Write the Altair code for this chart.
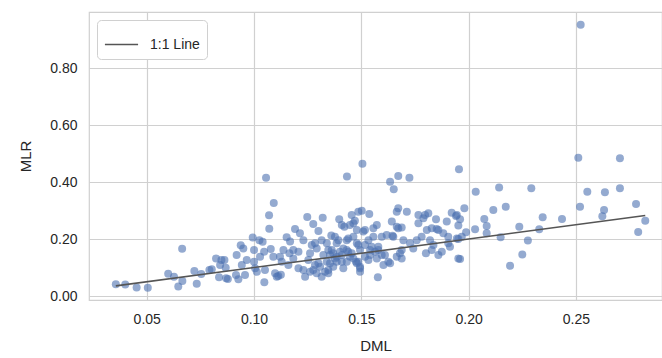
import altair as alt
import pandas as pd

dml = [
    0.0356, 0.040, 0.0453, 0.0505, 0.060, 0.0627, 0.0647, 0.0665, 0.0666, 0.0722,
    0.0733, 0.0754, 0.0792, 0.0803, 0.0823, 0.0837, 0.0842, 0.0848, 0.0862, 0.0868,
    0.087, 0.0878, 0.0919, 0.0938, 0.095, 0.0943, 0.0966, 0.0916, 0.0927, 0.0958,
    0.0994, 0.100, 0.1005, 0.1013, 0.1025,
    0.1056, 0.1433, 0.1505, 0.1634, 0.1651, 0.1672, 0.1724, 0.1955, 0.1092, 0.107,
    0.1071, 0.1040, 0.1047, 0.1078, 0.1028, 0.1000, 0.1090, 0.1051, 0.1048, 0.1098,
    0.1113, 0.1129, 0.1137, 0.1152, 0.1168, 0.1191, 0.1214, 0.1248, 0.1276, 0.130,
    0.132, 0.1165, 0.1183, 0.1207, 0.123, 0.1269, 0.1253, 0.1292, 0.1315, 0.1323,
    0.1284, 0.1308, 0.1331, 0.1261, 0.1207, 0.116, 0.1346, 0.1354, 0.1362, 0.1377,
    0.1397, 0.1409, 0.1393, 0.1385, 0.1416, 0.1432, 0.1439, 0.1455, 0.1463, 0.1479,
    0.1486, 0.1502, 0.1509, 0.1479, 0.1447, 0.1475, 0.1494, 0.1517, 0.1533, 0.1537,
    0.1556, 0.1572, 0.1564, 0.1579, 0.1577, 0.1603, 0.1618, 0.1642, 0.1665, 0.1672,
    0.1712, 0.1672, 0.1696, 0.1649, 0.1665, 0.1634, 0.1688, 0.1758, 0.1766, 0.1789,
    0.1797, 0.1805, 0.1812, 0.1781, 0.182, 0.1828, 0.1848, 0.1859, 0.1898, 0.1921,
    0.1945, 0.1905, 0.1882, 0.1913, 0.1801, 0.1859, 0.1875, 0.1952, 0.1727, 0.1742,
    0.123, 0.1238, 0.1292, 0.1315, 0.1369, 0.1385, 0.1409, 0.1432, 0.1455, 0.1494,
    0.1494, 0.1517, 0.1541, 0.1595, 0.1541, 0.1354, 0.1339, 0.1261, 0.1183, 0.1121,
    0.1106, 0.1125,
    0.1421, 0.147, 0.1447, 0.1517, 0.1360, 0.1432, 0.1463, 0.1556, 0.1595, 0.1284,
    0.1385, 0.1416, 0.1486, 0.1548, 0.1346, 0.1369, 0.140, 0.1439, 0.1463, 0.1579,
    0.161, 0.1626, 0.130, 0.1339, 0.1377, 0.1409, 0.1486, 0.1533, 0.1572, 0.1276,
    0.1346, 0.1479, 0.1494,
    0.1665, 0.1688, 0.1766, 0.1851, 0.1645, 0.1836, 0.1905, 0.1945, 0.1968, 0.168,
    0.1688, 0.1828,
    0.2511, 0.2705, 0.2033, 0.2142, 0.2292, 0.2553, 0.2635, 0.2705, 0.278, 0.2519,
    0.2631, 0.2623, 0.2823, 0.279, 0.2435, 0.2345, 0.2329, 0.2236, 0.2276, 0.225,
    0.2193, 0.2149, 0.2173, 0.2115, 0.2073, 0.2084, 0.2084, 0.203, 0.1988, 0.198,
    0.196, 0.1941, 0.1952, 0.1952, 0.196, 0.2522,
]

mlr = [
    0.041, 0.040, 0.030, 0.029, 0.078, 0.068, 0.033, 0.166, 0.053, 0.088,
    0.043, 0.077, 0.091, 0.094, 0.132, 0.066, 0.109, 0.126, 0.126, 0.099,
    0.062, 0.060, 0.144, 0.178, 0.167, 0.109, 0.126, 0.074, 0.059, 0.074,
    0.205, 0.161, 0.097, 0.085, 0.196,
    0.415, 0.419, 0.464, 0.401, 0.375, 0.421, 0.415, 0.445, 0.326, 0.283,
    0.236, 0.190, 0.155, 0.165, 0.138, 0.120, 0.138, 0.091, 0.048, 0.080,
    0.070, 0.120, 0.161, 0.206, 0.191, 0.235, 0.220, 0.277, 0.253, 0.228,
    0.275, 0.150, 0.132, 0.155, 0.196, 0.179, 0.126, 0.167, 0.196, 0.144,
    0.109, 0.103, 0.085, 0.085, 0.097, 0.109, 0.080, 0.115, 0.161, 0.208,
    0.269, 0.249, 0.196, 0.138, 0.097, 0.161, 0.202, 0.284, 0.255, 0.232,
    0.296, 0.299, 0.226, 0.185, 0.138, 0.120, 0.103, 0.138, 0.196, 0.288,
    0.238, 0.249, 0.155, 0.173, 0.066, 0.109, 0.214, 0.261, 0.296, 0.308,
    0.296, 0.238, 0.196, 0.208, 0.138, 0.115, 0.161, 0.196, 0.284, 0.273,
    0.284, 0.232, 0.290, 0.208, 0.196, 0.238, 0.269, 0.232, 0.261, 0.292,
    0.284, 0.208, 0.220, 0.173, 0.150, 0.144, 0.155, 0.132, 0.185, 0.167,
    0.091, 0.068, 0.080, 0.068, 0.103, 0.120, 0.144, 0.120, 0.150, 0.161,
    0.085, 0.179, 0.161, 0.144, 0.144, 0.144, 0.185, 0.150, 0.161, 0.138,
    0.068, 0.075,
    0.243, 0.264, 0.249, 0.232, 0.212, 0.196, 0.208, 0.208, 0.208, 0.185,
    0.185, 0.167, 0.179, 0.173, 0.161, 0.150, 0.155, 0.155, 0.132, 0.161,
    0.144, 0.120, 0.115, 0.120, 0.132, 0.120, 0.120, 0.126, 0.132, 0.091,
    0.091, 0.115, 0.097,
    0.243, 0.240, 0.255, 0.235, 0.211, 0.179, 0.185, 0.202, 0.208, 0.150,
    0.132, 0.161,
    0.485, 0.483, 0.366, 0.381, 0.378, 0.366, 0.364, 0.378, 0.323, 0.313,
    0.302, 0.280, 0.264, 0.225, 0.270, 0.276, 0.234, 0.243, 0.195, 0.146,
    0.106, 0.206, 0.313, 0.302, 0.270, 0.246, 0.220, 0.234, 0.224, 0.308,
    0.269, 0.281, 0.247, 0.200, 0.130, 0.952,
]

x_ticks = [0.05, 0.10, 0.15, 0.20, 0.25]
y_ticks = [0.0, 0.2, 0.4, 0.6, 0.8]
line_label = "1:1 Line"

pts = pd.DataFrame({"DML": dml, "MLR": mlr})
lo, hi = min(dml), max(dml)
line_df = pd.DataFrame({"DML": [lo, hi], "MLR": [lo, hi], "series": [line_label, line_label]})

FONT = "Liberation Sans"
xscale = alt.Scale(domain=[0.0231, 0.2901], nice=False, zero=False)
yscale = alt.Scale(domain=[-0.014, 0.9965], nice=False, zero=False)

xaxis = alt.Axis(values=x_ticks, format=".2f", title="DML", grid=True, domain=False,
                 ticks=False, labelPadding=12, titlePadding=12)
yaxis = alt.Axis(values=y_ticks, format=".2f", title="MLR", grid=True, domain=False,
                 ticks=False, labelPadding=12, titlePadding=16)

scatter = alt.Chart(pts).mark_circle(size=64, opacity=0.6, color="#4C72B0").encode(
    x=alt.X("DML:Q", scale=xscale, axis=xaxis),
    y=alt.Y("MLR:Q", scale=yscale, axis=yaxis),
)

line = alt.Chart(line_df).mark_line(strokeWidth=1.6).encode(
    x=alt.X("DML:Q", scale=xscale),
    y=alt.Y("MLR:Q", scale=yscale),
    color=alt.Color("series:N", scale=alt.Scale(domain=[line_label], range=["#555555"]),
                    legend=alt.Legend(title=None, orient="none", legendX=8, legendY=8,
                                      symbolType="stroke", symbolSize=1100,
                                      symbolStrokeWidth=1.6, labelFontSize=14,
                                      labelFont=FONT, labelColor="#262626",
                                      labelOffset=11, padding=7,
                                      strokeColor="#d0d0d0", fillColor="white",
                                      cornerRadius=4)),
)

chart = (scatter + line).properties(
    width=573, height=288,
    autosize=alt.AutoSizeParams(type="none"),
    padding={"left": 89, "top": 12, "right": 0, "bottom": 58},
).configure_view(stroke="#d0d0d0", strokeWidth=1.2).configure_axis(
    gridColor="#d0d0d0", gridWidth=1.2, labelFont=FONT, titleFont=FONT,
    labelFontSize=14, titleFontSize=15, labelColor="#262626", titleColor="#262626",
    titleFontWeight="normal",
)

chart.save("out.html", embed_options={"renderer": "svg", "actions": False})
